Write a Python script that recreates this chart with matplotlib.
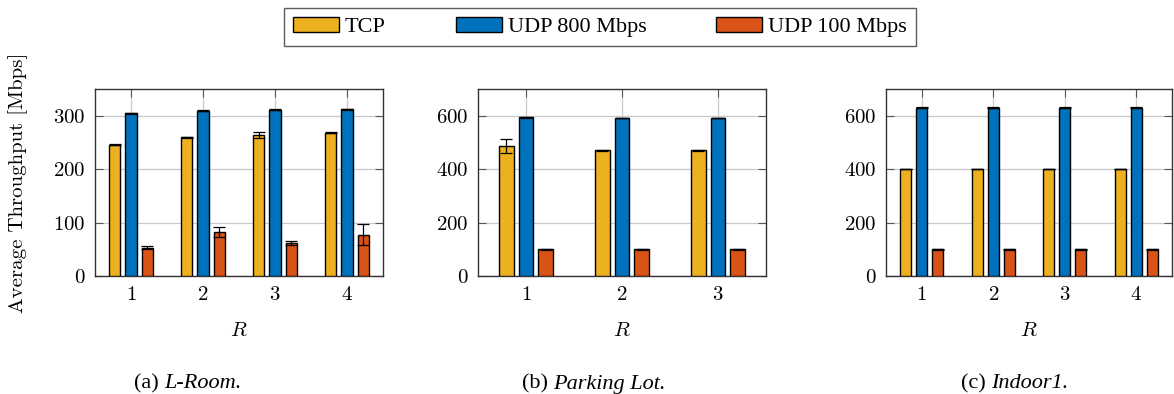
import numpy as np
import matplotlib
matplotlib.use("Agg")
import matplotlib.pyplot as plt
from matplotlib.patches import Patch

plt.rcParams['mathtext.fontset'] = 'cm'
plt.rcParams['axes.formatter.use_mathtext'] = True

# measured average throughput [Mbps] per R, with error bar half-widths
series = ['TCP', 'UDP 800 Mbps', 'UDP 100 Mbps']
colors = ['#EDB120', '#0072BD', '#D95319']

lroom_r = [1, 2, 3, 4]
lroom_tcp = [246, 260, 264, 268]
lroom_udp800 = [305, 309, 311, 312]
lroom_udp100 = [53, 83, 62, 77]
lroom_tcp_err = [1, 1, 5, 1]
lroom_udp800_err = [1, 1, 1, 1]
lroom_udp100_err = [3, 9.5, 4, 19.5]

parking_r = [1, 2, 3]
parking_tcp = [486, 470, 470]
parking_udp800 = [594, 591, 591]
parking_udp100 = [100, 100, 100]
parking_tcp_err = [26, 1, 1]
parking_udp800_err = [1, 1, 1]
parking_udp100_err = [1, 1, 1]

indoor_r = [1, 2, 3, 4]
indoor_tcp = [401, 401, 401, 401]
indoor_udp800 = [630, 630, 630, 630]
indoor_udp100 = [100, 100, 100, 100]
indoor_tcp_err = [1, 1, 1, 1]
indoor_udp800_err = [1, 1, 1, 1]
indoor_udp100_err = [1, 1, 1, 1]

captions = [('(a) ', 'L-Room.'), ('(b) ', 'Parking Lot.'), ('(c) ', 'Indoor1.')]

W, H = 1174, 394
fig = plt.figure(figsize=(W / 100, H / 100), dpi=100)


def box(l, r, t=89, b=276):
    return [l / W, (H - b) / H, (r - l) / W, (b - t) / H]


def draw(ax, r, vals, errs, ymax, yticks, offset, width=0.155):
    x = np.array(r, dtype=float)
    for i, (v, e) in enumerate(zip(vals, errs)):
        ax.bar(x + (i - 1) * offset, v, width, color=colors[i],
               edgecolor='black', linewidth=1.0, zorder=3,
               yerr=e, capsize=4,
               error_kw=dict(ecolor='black', elinewidth=0.9, capthick=0.9, zorder=4))
    ax.set_xlim(r[0] - 0.5, r[-1] + 0.5)
    ax.set_ylim(0, ymax)
    ax.set_xticks(r)
    ax.set_yticks(yticks)
    ax.grid(True, color='#c8c8c8', linewidth=0.9, zorder=0)
    ax.tick_params(direction='in', length=6, width=0.8, color='#555555',
                   top=True, right=True, labelsize=15, pad=7)
    for lab in ax.get_xticklabels() + ax.get_yticklabels():
        lab.set_fontfamily('cmr10')
    for s in ax.spines.values():
        s.set_color('#333333')
        s.set_linewidth(1.0)
    ax.set_xlabel('$R$', fontsize=15, labelpad=12)


ax1 = fig.add_axes(box(95, 383))
draw(ax1, lroom_r, [lroom_tcp, lroom_udp800, lroom_udp100],
     [lroom_tcp_err, lroom_udp800_err, lroom_udp100_err],
     350, [0, 100, 200, 300], 0.228)
ax1.set_ylabel('Average Throughput [Mbps]', fontfamily='cmr10', fontsize=15, labelpad=18)

ax2 = fig.add_axes(box(478, 766))
draw(ax2, parking_r, [parking_tcp, parking_udp800, parking_udp100],
     [parking_tcp_err, parking_udp800_err, parking_udp100_err],
     700, [0, 200, 400, 600], 0.205)

ax3 = fig.add_axes(box(886, 1172))
draw(ax3, indoor_r, [indoor_tcp, indoor_udp800, indoor_udp100],
     [indoor_tcp_err, indoor_udp800_err, indoor_udp100_err],
     700, [0, 200, 400, 600], 0.225)

# sub-figure captions: upright tag followed by italic name, centred as a whole
renderer = fig.canvas.get_renderer()
for cx, (tag, name) in zip([188, 594, 1015], captions):
    t1 = fig.text(0, 1 - 384 / H, tag, fontfamily='Liberation Serif',
                  fontsize=16, ha='left', va='center')
    t2 = fig.text(0, 1 - 384 / H, name, fontfamily='Liberation Serif',
                  fontstyle='italic', fontsize=16, ha='left', va='center')
    w1 = t1.get_window_extent(renderer).width
    w2 = t2.get_window_extent(renderer).width
    x0 = cx - (w1 + w2) / 2
    t1.set_x(x0 / W)
    t2.set_x((x0 + w1) / W)

handles = [Patch(facecolor=c, edgecolor='black', linewidth=1.0) for c in colors]
leg = fig.legend(handles, series, loc='center', bbox_to_anchor=(600 / W, 1 - 27 / H),
                 ncol=3, frameon=True, fancybox=False, edgecolor='#333333',
                 prop={'family': 'Liberation Serif', 'size': 16},
                 handlelength=2.07, handleheight=0.68, handletextpad=0.27,
                 columnspacing=3.15, borderpad=0.4)
leg.get_frame().set_linewidth(1.0)

fig.savefig('out.png', dpi=100)
